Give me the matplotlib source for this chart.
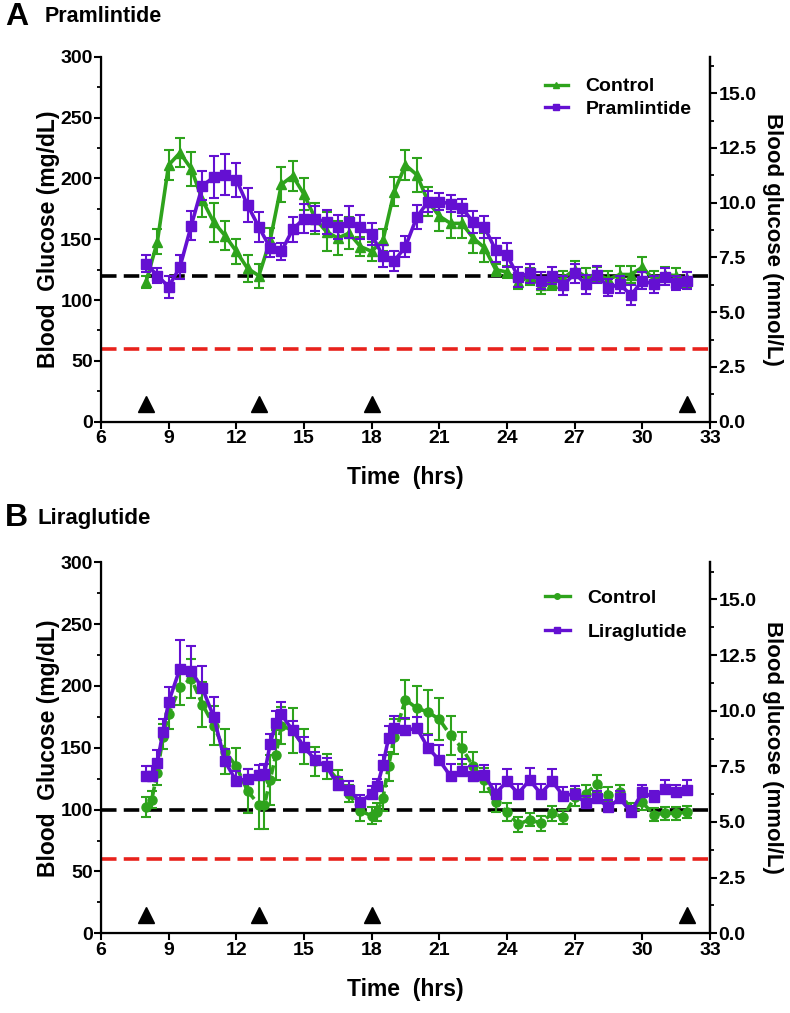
import numpy as np
import matplotlib
matplotlib.use('Agg')
import matplotlib.pyplot as plt
from matplotlib.lines import Line2D
from matplotlib.ticker import MultipleLocator, FormatStrFormatter

plt.rcParams['font.family'] = ['Liberation Sans', 'DejaVu Sans']
plt.rcParams['font.weight'] = 'bold'

GREEN = '#2ea31c'
PURPLE = '#6410d2'
RED = '#e8221c'

# ---- panel A: pramlintide (half-hourly readings, mg/dL) ----
time_a = np.arange(8.0, 32.01, 0.5)
pram_mean = [130, 120, 111, 127, 161, 194, 201, 203, 199, 178,
             160, 143, 140, 158, 167, 167, 164, 160, 164, 160,
             154, 136, 132, 144, 168, 181, 181, 179, 176, 164,
             160, 141, 137, 119, 122, 116, 120, 112, 122, 113,
             121, 110, 113, 104, 116, 113, 119, 114, 116]
pram_sem = [7, 6, 9, 10, 12, 12, 17, 17, 14, 14,
            12, 8, 7, 10, 12, 10, 10, 10, 13, 10,
            9, 9, 8, 9, 10, 9, 7, 7, 7, 9,
            9, 10, 10, 8, 8, 7, 7, 8, 8, 8,
            7, 7, 7, 8, 7, 7, 7, 6, 7]
ctrl_a_mean = [115, 148, 211, 221, 208, 182, 164, 153, 140, 126,
               120, 149, 195, 202, 187, 167, 156, 151, 155, 144,
               140, 149, 189, 211, 203, 181, 169, 163, 163, 151,
               143, 125, 123, 115, 119, 112, 114, 118, 125, 119,
               121, 117, 121, 121, 127, 117, 121, 120, 117]
ctrl_a_sem = [5, 10, 12, 12, 14, 14, 16, 12, 10, 11,
              10, 10, 14, 12, 13, 13, 16, 14, 13, 8,
              8, 9, 12, 12, 14, 12, 12, 12, 12, 12,
              12, 5, 5, 6, 7, 7, 6, 6, 7, 7,
              6, 7, 7, 7, 8, 7, 6, 6, 6]

# ---- panel B: liraglutide (15-min readings after meals) ----
time_b = [8.0, 8.25, 8.5, 8.75, 9.0, 9.5, 10.0, 10.5, 11.0, 11.5, 12.0, 12.5, 13.0,
          13.25, 13.5, 13.75, 14.0, 14.5, 15.0, 15.5, 16.0, 16.5, 17.0, 17.5, 18.0,
          18.25, 18.5, 18.75, 19.0, 19.5, 20.0, 20.5, 21.0, 21.5, 22.0, 22.5, 23.0,
          23.5, 24.0, 24.5, 25.0, 25.5, 26.0, 26.5, 27.0, 27.5, 28.0, 28.5, 29.0,
          29.5, 30.0, 30.5, 31.0, 31.5, 32.0]
lira_mean = [127, 127, 138, 163, 187, 214, 212, 198, 175, 139, 123, 125, 128,
             129, 153, 170, 177, 164, 151, 140, 135, 120, 116, 106, 113,
             119, 136, 158, 166, 164, 166, 150, 140, 127, 131, 127, 128,
             113, 123, 113, 124, 113, 123, 111, 113, 105, 109, 102, 109,
             98, 114, 110, 117, 114, 116]
lira_sem = [8, 8, 10, 10, 12, 23, 20, 18, 16, 10, 8, 8, 8,
            8, 8, 10, 10, 8, 8, 7, 7, 6, 7, 6, 6,
            6, 8, 10, 10, 10, 9, 10, 12, 10, 10, 8, 8,
            8, 10, 8, 10, 8, 10, 7, 6, 6, 6, 6, 6,
            5, 6, 5, 7, 6, 8]
ctrl_b_mean = [102, 108, 130, 159, 177, 199, 206, 185, 168, 147, 135, 115, 104,
               104, 124, 144, 168, 164, 151, 139, 135, 124, 113, 99, 95,
               98, 109, 135, 159, 189, 182, 179, 173, 160, 150, 135, 124,
               106, 98, 88, 92, 89, 97, 94, 110, 113, 121, 112, 114,
               100, 106, 96, 97, 97, 98]
ctrl_b_sem = [8, 7, 10, 10, 12, 14, 16, 18, 16, 18, 15, 18, 20,
              20, 20, 20, 15, 18, 14, 12, 10, 8, 7, 8, 7,
              7, 10, 12, 14, 16, 18, 18, 17, 16, 13, 12, 10,
              8, 7, 6, 5, 6, 6, 6, 7, 7, 7, 6, 6,
              5, 6, 5, 5, 5, 5]

meal_times = [8, 13, 18, 32]
xticks = [6, 9, 12, 15, 18, 21, 24, 27, 30, 33]

fig = plt.figure(figsize=(7.9, 10.13), dpi=100)
ax_a = fig.add_axes([0.1278, 0.5837, 0.7709, 0.3603])
ax_b = fig.add_axes([0.1278, 0.0787, 0.7709, 0.3662])


def style_axes(ax):
    ax.set_xlim(6, 33)
    ax.set_ylim(0, 300)
    ax.set_xticks(xticks)
    ax.yaxis.set_major_locator(MultipleLocator(50))
    ax.yaxis.set_minor_locator(MultipleLocator(25))
    ax.spines['top'].set_visible(False)
    for s in ['left', 'bottom', 'right']:
        ax.spines[s].set_linewidth(1.6)
    ax.tick_params(which='major', direction='out', length=5, width=1.5, labelsize=14, pad=1)
    ax.tick_params(which='minor', direction='out', length=3, width=1.3)
    ax.set_xlabel('Time  (hrs)', fontsize=16.5, fontweight='bold', labelpad=14)
    ax.set_ylabel('Blood  Glucose (mg/dL)', fontsize=16.5, fontweight='bold', labelpad=0)
    ax2 = ax.twinx()
    ax2.set_ylim(0, 300 / 18)
    ax2.yaxis.set_major_locator(MultipleLocator(2.5))
    ax2.yaxis.set_minor_locator(MultipleLocator(1.25))
    ax2.yaxis.set_major_formatter(FormatStrFormatter('%.1f'))
    ax2.spines['top'].set_visible(False)
    ax2.spines['right'].set_linewidth(1.6)
    ax2.tick_params(which='major', direction='out', length=5, width=1.5, labelsize=14, pad=1)
    ax2.tick_params(which='minor', direction='out', length=3, width=1.3)
    ax2.set_ylabel('Blood glucose (mmol/L)', fontsize=16, fontweight='bold',
                   rotation=270, va='bottom', labelpad=4)
    ax.plot(meal_times, [14.5] * len(meal_times), linestyle='none', marker='^',
            color='black', markersize=11, zorder=5)


dash = (0, (4.3, 2.0))

# panel A
style_axes(ax_a)
ax_a.axhline(120, color='black', lw=2.6, linestyle=dash, zorder=1)
ax_a.axhline(60, color=RED, lw=2.6, linestyle=dash, zorder=1)
ax_a.errorbar(time_a, ctrl_a_mean, yerr=ctrl_a_sem, color=GREEN, lw=2.6, marker='^',
              markersize=7, elinewidth=1.5, capsize=3.5, capthick=1.5, zorder=3)
ax_a.errorbar(time_a, pram_mean, yerr=pram_sem, color=PURPLE, lw=2.6, marker='s',
              markersize=6.5, elinewidth=1.5, capsize=3.5, capthick=1.5, zorder=4)
handles_a = [Line2D([], [], color=GREEN, lw=2.4, marker='^', markersize=4),
             Line2D([], [], color=PURPLE, lw=2.4, marker='s', markersize=4)]
ax_a.legend(handles_a, ['Control', 'Pramlintide'], loc='upper left',
            bbox_to_anchor=(0.7, 0.99), frameon=False, fontsize=14,
            handlelength=1.2, handletextpad=0.9, labelspacing=0.25)

# panel B
style_axes(ax_b)
ax_b.axhline(100, color='black', lw=2.6, linestyle=dash, zorder=1)
ax_b.axhline(60, color=RED, lw=2.6, linestyle=dash, zorder=1)
ax_b.errorbar(time_b, ctrl_b_mean, yerr=ctrl_b_sem, color=GREEN, lw=2.6, marker='o',
              markersize=6.5, elinewidth=1.5, capsize=3.5, capthick=1.5, zorder=3,
              linestyle=(0, (2.6, 1.1)))
ax_b.errorbar(time_b, lira_mean, yerr=[np.zeros(len(lira_sem)), lira_sem], color=PURPLE,
              lw=2.6, marker='s', markersize=6.5, elinewidth=1.5, capsize=3.5,
              capthick=1.5, zorder=4)
handles_b = [Line2D([], [], color=GREEN, lw=2.4, marker='o', markersize=4),
             Line2D([], [], color=PURPLE, lw=2.4, marker='s', markersize=4)]
ax_b.legend(handles_b, ['Control', 'Liraglutide'], loc='upper left',
            bbox_to_anchor=(0.7, 0.975), frameon=False, fontsize=14,
            handlelength=1.3, handletextpad=0.9, labelspacing=0.85)

fig.text(0.006, 1 - 17 / 1013, 'A', fontsize=23, fontweight='bold', va='center')
fig.text(0.057, 1 - 17 / 1013, 'Pramlintide', fontsize=15.5, fontweight='bold', va='center')
fig.text(0.006, 1 - 518 / 1013, 'B', fontsize=23, fontweight='bold', va='center')
fig.text(0.048, 1 - 518 / 1013, 'Liraglutide', fontsize=16, fontweight='bold', va='center')

fig.savefig('out.png', dpi=100)
